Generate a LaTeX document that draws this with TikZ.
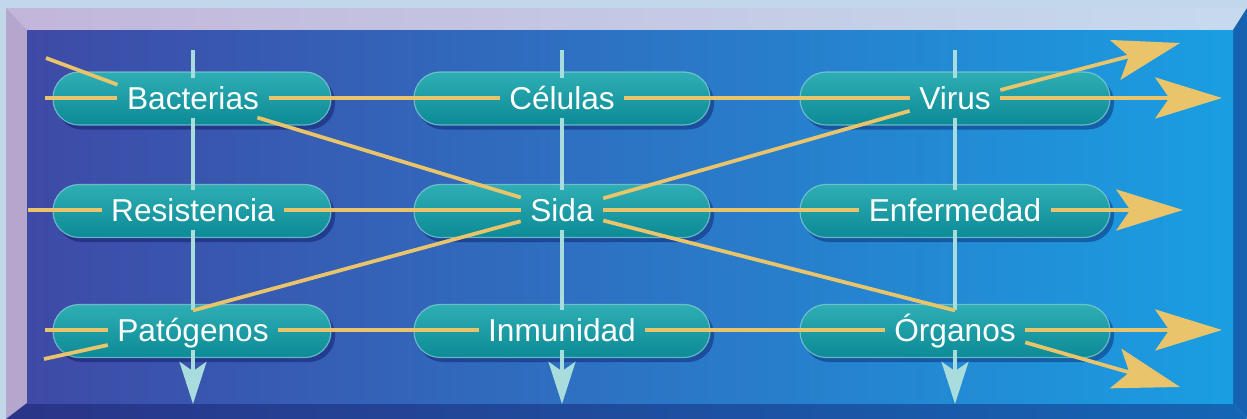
\documentclass[tikz,border=0pt]{standalone}
\usepackage{fontspec}
\setmainfont{Liberation Sans}
\usepackage{xcolor}
\usetikzlibrary{arrows.meta}

\definecolor{paper}{HTML}{C2D7EA}
\definecolor{gold}{HTML}{E9C46A}
\definecolor{ice}{HTML}{A9DCDC}
\definecolor{tealhi}{HTML}{2EAEB4}
\definecolor{teallo}{HTML}{0C8A96}
\definecolor{tealrim}{HTML}{8AD2D4}
\definecolor{bevtopl}{HTML}{C2B6DA}
\definecolor{bevtopr}{HTML}{C6DAEE}
\definecolor{bevleft}{HTML}{B4A6CC}
\definecolor{bevbotl}{HTML}{2A3488}
\definecolor{bevbotr}{HTML}{1466B4}
\definecolor{bevright}{HTML}{1462B0}
\definecolor{panell}{HTML}{3E4AA6}
\definecolor{panelm}{HTML}{2A88D4}
\definecolor{panelr}{HTML}{1A9EE2}

\begin{document}
\begin{tikzpicture}[x=0.03cm,y=-0.03cm,
    word/.style={text=white,font=\fontsize{27}{30}\selectfont,
                 inner xsep=8pt,inner ysep=6pt,text height=20pt,text depth=1pt},
    link/.style={draw=gold,line width=3.2pt},
    flow/.style={link,-{Stealth[length=57pt,width=35pt,inset=12pt]}},
    beam/.style={draw=ice,line width=3pt},
    drop/.style={beam,-{Stealth[length=36pt,width=23pt,inset=8pt]}},
    pillbody/.style={top color=tealhi,bottom color=teallo,rounded corners=0.78cm},
    pillshade/.style={fill=black!70!blue,opacity=0.35,rounded corners=0.78cm}]
    \useasboundingbox (0,0) rectangle (1247,419);

    % frame
    \fill[paper] (0,0) rectangle (1247,419);
    \shade[left color=bevtopl,right color=bevtopr] (6,8) -- (1247,8) -- (1233,30) -- (27,30) -- cycle;
    \fill[bevleft] (6,8) -- (27,30) -- (27,403) -- (6,419) -- cycle;
    \shade[left color=bevbotl,right color=bevbotr] (6,419) -- (27,403) -- (1233,403) -- (1247,419) -- cycle;
    \fill[bevright] (1247,8) -- (1233,30) -- (1233,403) -- (1247,419) -- cycle;
    \shade[left color=panell,middle color=panelm,right color=panelr] (27,30) rectangle (1233,403);

    % pills
    \foreach \cx/\hw in {192/139,562/148,955/155}
      \foreach \cy in {98.5,211,331}{
        \fill[pillshade] (\cx-\hw+3,\cy-22) rectangle (\cx+\hw+4,\cy+31);
        \shade[pillbody] (\cx-\hw,\cy-26.5) rectangle (\cx+\hw,\cy+26.5);
        \draw[tealrim,line width=1pt,opacity=0.7,rounded corners=0.78cm]
          (\cx-\hw,\cy-26.5) rectangle (\cx+\hw,\cy+26.5);
      }

    % words
    \node[word] (bac)  at (193,98)  {Bacterias};
    \node[word] (cel)  at (562,98)  {Células};
    \node[word] (vir)  at (955,98)  {Virus};
    \node[word] (res)  at (193,210) {Resistencia};
    \node[word] (sida) at (562,210) {Sida};
    \node[word] (enf)  at (955,210) {Enfermedad};
    \node[word] (pat)  at (193,330) {Patógenos};
    \node[word] (inm)  at (562,330) {Inmunidad};
    \node[word] (org)  at (955,330) {Órganos};

    \coordinate (c1top) at (193,50);  \coordinate (c1end) at (193,404);
    \coordinate (c2top) at (562,50);  \coordinate (c2end) at (562,404);
    \coordinate (c3top) at (955,50);  \coordinate (c3end) at (955,404);
    \coordinate (r1in) at (45,98);    \coordinate (r1out) at (1222,98);
    \coordinate (r2in) at (28,210);   \coordinate (r2out) at (1183,210);
    \coordinate (r3in) at (45,330);   \coordinate (r3out) at (1222,330);
    \coordinate (xin)  at (46,58);    \coordinate (xout) at (1180,43);
    \coordinate (yin)  at (44,359);   \coordinate (yout) at (1180,387);

    % columns
    \path[beam] (c1top) edge (bac) (bac) edge (res) (res) edge (pat);
    \path[beam] (c2top) edge (cel) (cel) edge (sida) (sida) edge (inm);
    \path[beam] (c3top) edge (vir) (vir) edge (enf) (enf) edge (org);
    \draw[drop] (pat) -- (c1end);
    \draw[drop] (inm) -- (c2end);
    \draw[drop] (org) -- (c3end);

    % rows
    \path[link] (r1in) edge (bac) (bac) edge (cel) (cel) edge (vir);
    \path[link] (r2in) edge (res) (res) edge (sida) (sida) edge (enf);
    \path[link] (r3in) edge (pat) (pat) edge (inm) (inm) edge (org);
    \draw[flow] (vir) -- (r1out);
    \draw[flow] (enf) -- (r2out);
    \draw[flow] (org) -- (r3out);

    % crossing lines
    \path[link] (xin) edge (bac.170) (bac) edge (sida) (sida) edge (vir);
    \path[link] (yin) edge (pat.190) (pat.north) edge (sida) (sida) edge (org.north);
    \draw[flow] (vir.10) -- (xout);
    \draw[flow] (org.-10) -- (yout);
\end{tikzpicture}
\end{document}
